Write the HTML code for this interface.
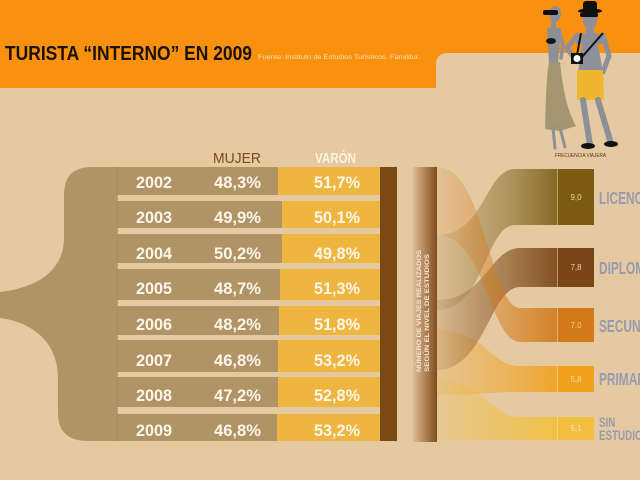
<!DOCTYPE html>
<html>
<head>
<meta charset="utf-8">
<style>
  html,body{margin:0;padding:0;background:#e5c9a1;}
  svg{display:block;}
  text{font-family:"Liberation Sans", sans-serif;}
</style>
</head>
<body>
<svg width="640" height="480" viewBox="0 0 640 480" xmlns="http://www.w3.org/2000/svg">
  <defs>
    <linearGradient id="gL" gradientUnits="userSpaceOnUse" x1="437" y1="0" x2="557" y2="0">
      <stop offset="0" stop-color="#8a7030" stop-opacity="0.12"/>
      <stop offset="0.55" stop-color="#8a7030" stop-opacity="0.55"/>
      <stop offset="1" stop-color="#7b5e1a" stop-opacity="0.9"/>
    </linearGradient>
    <linearGradient id="gD" gradientUnits="userSpaceOnUse" x1="437" y1="0" x2="557" y2="0">
      <stop offset="0" stop-color="#7a4516" stop-opacity="0.12"/>
      <stop offset="0.55" stop-color="#7a4516" stop-opacity="0.55"/>
      <stop offset="1" stop-color="#7a4516" stop-opacity="0.9"/>
    </linearGradient>
    <linearGradient id="gS" gradientUnits="userSpaceOnUse" x1="437" y1="0" x2="557" y2="0">
      <stop offset="0" stop-color="#d27a1a" stop-opacity="0.1"/>
      <stop offset="0.55" stop-color="#d27a1a" stop-opacity="0.5"/>
      <stop offset="1" stop-color="#d27a1a" stop-opacity="0.9"/>
    </linearGradient>
    <linearGradient id="gP" gradientUnits="userSpaceOnUse" x1="437" y1="0" x2="557" y2="0">
      <stop offset="0" stop-color="#f0a11e" stop-opacity="0.12"/>
      <stop offset="0.55" stop-color="#f0a11e" stop-opacity="0.5"/>
      <stop offset="1" stop-color="#f0a11e" stop-opacity="0.9"/>
    </linearGradient>
    <linearGradient id="gSE" gradientUnits="userSpaceOnUse" x1="437" y1="0" x2="557" y2="0">
      <stop offset="0" stop-color="#f2c03e" stop-opacity="0.15"/>
      <stop offset="0.55" stop-color="#f2c03e" stop-opacity="0.55"/>
      <stop offset="1" stop-color="#f2c03e" stop-opacity="0.9"/>
    </linearGradient>
    <linearGradient id="gBar" gradientUnits="userSpaceOnUse" x1="413" y1="0" x2="437" y2="0">
      <stop offset="0" stop-color="#dcbc96"/>
      <stop offset="0.35" stop-color="#c09468"/>
      <stop offset="1" stop-color="#7f4e1e"/>
    </linearGradient>
  </defs>

  <!-- background -->
  <rect x="0" y="0" width="640" height="480" fill="#e5c9a1"/>

  <!-- orange header -->
  <path d="M0 0 H640 V53 H448 Q436 53 436 65 V88 H0 Z" fill="#f9910f"/>

  <text x="5" y="60" font-size="20" font-weight="bold" fill="#1a1208" textLength="247" lengthAdjust="spacingAndGlyphs">TURISTA “INTERNO” EN 2009</text>
  <text x="258" y="59" font-size="6.5" fill="#fbe2b8" textLength="162" lengthAdjust="spacingAndGlyphs">Fuente: Instituto de Estudios Turísticos. Familitur.</text>

  <!-- figures -->
  <g>
    <!-- woman -->
    <ellipse cx="555" cy="14" rx="6" ry="8" fill="#8d9098"/>
    <rect x="543" y="10" width="15" height="5" rx="2" fill="#111"/>
    <rect x="551" y="20" width="5" height="9" fill="#8d9098"/>
    <path d="M547 28 L561 28 L558 63 L549 63 Z" fill="#8d9098"/>
    <ellipse cx="551" cy="41" rx="5" ry="3" fill="#151515"/>
    <path d="M559 30 L563 45 L561 58" stroke="#8d9098" stroke-width="3.5" fill="none" stroke-linecap="round"/>
    <path d="M549 62 L560 62 C563 90 567 110 576 126 L560 131 L545 129 C546 100 546 80 549 62 Z" fill="#a39670"/>
    <path d="M553 128 L555 148 M560 128 L565 147" stroke="#8d9098" stroke-width="3" fill="none" stroke-linecap="round"/>
    <!-- man -->
    <path d="M584 33 L596 33 L603 72 L578 72 Z" fill="#8d9098"/>
    <path d="M576 34 L604 34 L604 44 L576 44 Z" fill="#8d9098"/>
    <ellipse cx="590" cy="20" rx="7" ry="9" fill="#8d9098"/>
    <rect x="586" y="26" width="8" height="8" fill="#8d9098"/>
    <rect x="583" y="1" width="14" height="10" rx="3" fill="#111"/>
    <ellipse cx="590" cy="11" rx="12" ry="2.5" fill="#111"/>
    <rect x="580" y="13" width="18" height="4" rx="1.5" fill="#111"/>
    <path d="M577 35 L567 48 L574 58" stroke="#8d9098" stroke-width="5" fill="none" stroke-linecap="round" stroke-linejoin="round"/>
    <path d="M603 35 L609 56 L603 72" stroke="#8d9098" stroke-width="5" fill="none" stroke-linecap="round" stroke-linejoin="round"/>
    <path d="M581 33 L577 55 M603 33 L582 57" stroke="#111" stroke-width="2" fill="none"/>
    <rect x="571" y="53" width="12" height="11" fill="#111"/>
    <circle cx="577" cy="58.5" r="3.5" fill="#fff"/>
    <path d="M577 70 L603 70 L604 100 L577 100 Z" fill="#f0b630"/>
    <path d="M583 100 L590 145 M598 100 L610 140" stroke="#8d9098" stroke-width="6" fill="none" stroke-linecap="round"/>
    <ellipse cx="588" cy="146" rx="7" ry="3" fill="#111"/>
    <ellipse cx="611" cy="144" rx="7" ry="3" fill="#111"/>
    <text x="555" y="157" font-size="5.5" fill="#5a3214" textLength="51" lengthAdjust="spacingAndGlyphs">FRECUENCIA VIAJERA</text>
  </g>

  <!-- column headers -->
  <text x="213" y="163" font-size="15" fill="#7a4a1c" textLength="48" lengthAdjust="spacingAndGlyphs">MUJER</text>
  <text x="315" y="163" font-size="15" font-weight="bold" fill="#fdf3e0" textLength="41" lengthAdjust="spacingAndGlyphs">VARÓN</text>

  <!-- brace shape -->
  <path d="M120 167 L92 167 Q64 167 64 195 L64 238 C64 272 35 288 0 292 L0 318 C32 322 58 342 58 378 L58 413 Q58 441 88 441 L120 441 Z" fill="#b09466"/>
  <rect x="117" y="167" width="263" height="274" fill="#b09466"/>

  <!-- varón parts -->
  <rect x="278" y="167" width="102" height="31" fill="#efb63f"/>
  <rect x="282" y="198" width="98" height="34" fill="#efb63f"/>
  <rect x="282" y="232" width="98" height="34" fill="#efb63f"/>
  <rect x="280" y="266" width="100" height="37" fill="#efb63f"/>
  <rect x="279" y="303" width="101" height="35" fill="#efb63f"/>
  <rect x="278" y="338" width="102" height="37" fill="#efb63f"/>
  <rect x="278" y="375" width="102" height="35" fill="#efb63f"/>
  <rect x="277" y="410" width="103" height="31" fill="#efb63f"/>

  <!-- gaps -->
  <g fill="#e4c9a2">
    <rect x="117" y="195" width="263" height="6"/>
    <rect x="117" y="228" width="263" height="6"/>
    <rect x="117" y="263" width="263" height="6"/>
    <rect x="117" y="300" width="263" height="6"/>
    <rect x="117" y="335" width="263" height="5"/>
    <rect x="117" y="372" width="263" height="5"/>
    <rect x="117" y="407" width="263" height="7"/>
  </g>
  <rect x="117" y="167" width="1" height="274" fill="#a3875a" opacity="0.6"/>

  <!-- row texts -->
  <g font-size="17" font-weight="bold" fill="#fdf6ea">
    <text x="136" y="188" textLength="36" lengthAdjust="spacingAndGlyphs">2002</text>
    <text x="214" y="188" textLength="47" lengthAdjust="spacingAndGlyphs">48,3%</text>
    <text x="314" y="188" textLength="46" lengthAdjust="spacingAndGlyphs">51,7%</text>

    <text x="136" y="223" textLength="36" lengthAdjust="spacingAndGlyphs">2003</text>
    <text x="214" y="223" textLength="47" lengthAdjust="spacingAndGlyphs">49,9%</text>
    <text x="314" y="223" textLength="46" lengthAdjust="spacingAndGlyphs">50,1%</text>

    <text x="136" y="259" textLength="36" lengthAdjust="spacingAndGlyphs">2004</text>
    <text x="214" y="259" textLength="47" lengthAdjust="spacingAndGlyphs">50,2%</text>
    <text x="314" y="259" textLength="46" lengthAdjust="spacingAndGlyphs">49,8%</text>

    <text x="136" y="294" textLength="36" lengthAdjust="spacingAndGlyphs">2005</text>
    <text x="214" y="294" textLength="47" lengthAdjust="spacingAndGlyphs">48,7%</text>
    <text x="314" y="294" textLength="46" lengthAdjust="spacingAndGlyphs">51,3%</text>

    <text x="136" y="330" textLength="36" lengthAdjust="spacingAndGlyphs">2006</text>
    <text x="214" y="330" textLength="47" lengthAdjust="spacingAndGlyphs">48,2%</text>
    <text x="314" y="330" textLength="46" lengthAdjust="spacingAndGlyphs">51,8%</text>

    <text x="136" y="366" textLength="36" lengthAdjust="spacingAndGlyphs">2007</text>
    <text x="214" y="366" textLength="47" lengthAdjust="spacingAndGlyphs">46,8%</text>
    <text x="314" y="366" textLength="46" lengthAdjust="spacingAndGlyphs">53,2%</text>

    <text x="136" y="401" textLength="36" lengthAdjust="spacingAndGlyphs">2008</text>
    <text x="214" y="401" textLength="47" lengthAdjust="spacingAndGlyphs">47,2%</text>
    <text x="314" y="401" textLength="46" lengthAdjust="spacingAndGlyphs">52,8%</text>

    <text x="136" y="436" textLength="36" lengthAdjust="spacingAndGlyphs">2009</text>
    <text x="214" y="436" textLength="47" lengthAdjust="spacingAndGlyphs">46,8%</text>
    <text x="314" y="436" textLength="46" lengthAdjust="spacingAndGlyphs">53,2%</text>
  </g>

  <!-- dark bar -->
  <rect x="380" y="167" width="17" height="274" fill="#7b4a14"/>

  <!-- gradient bar with vertical text -->
  <rect x="413" y="167" width="24" height="275" fill="url(#gBar)"/>
  <g font-size="6.8" font-weight="bold" fill="#f3e6d6">
    <text transform="translate(421,372) rotate(-90)" textLength="122" lengthAdjust="spacingAndGlyphs">NÚMERO DE VIAJES REALIZADOS</text>
    <text transform="translate(429,372) rotate(-90)" textLength="118" lengthAdjust="spacingAndGlyphs">SEGÚN EL NIVEL DE ESTUDIOS</text>
  </g>

  <!-- flows -->
  <path d="M437 380 C485 380 490 417 520 417 L557 417 L557 440 L520 440 C490 440 485 441 437 441 Z" fill="url(#gSE)"/>
  <path d="M437 330 C485 330 490 366 520 366 L557 366 L557 392 L520 392 C490 392 485 395 437 395 Z" fill="url(#gP)"/>
  <path d="M437 300 C485 300 490 248 520 248 L557 248 L557 287 L520 287 C490 287 485 370 437 370 Z" fill="url(#gD)"/>
  <path d="M437 235 C485 235 485 169 515 169 L557 169 L557 225 L515 225 C485 225 485 310 437 310 Z" fill="url(#gL)"/>
  <path d="M437 167 C485 167 490 308 520 308 L557 308 L557 342 L520 342 C490 342 485 235 437 235 Z" fill="url(#gS)"/>

  <!-- boxes -->
  <rect x="557" y="169" width="37" height="56" fill="#7b5a12"/>
  <rect x="557" y="248" width="37" height="39" fill="#7a4516"/>
  <rect x="557" y="308" width="37" height="34" fill="#d27a1a"/>
  <rect x="557" y="366" width="37" height="26" fill="#f0a11e"/>
  <rect x="557" y="417" width="37" height="23" fill="#f2c03e"/>
  <g fill="#f5e2b8" opacity="0.55">
    <rect x="557" y="169" width="1" height="56"/>
    <rect x="557" y="248" width="1" height="39"/>
    <rect x="557" y="308" width="1" height="34"/>
    <rect x="557" y="366" width="1" height="26"/>
    <rect x="557" y="417" width="1" height="23"/>
  </g>
  <g font-size="8" text-anchor="middle">
    <text x="576" y="200" fill="#ead9a8">9,0</text>
    <text x="576" y="270" fill="#ead0b0">7,8</text>
    <text x="576" y="328" fill="#f4c890">7,0</text>
    <text x="576" y="382" fill="#f8d8a0">5,8</text>
    <text x="576" y="431" fill="#f8e4a8">5,1</text>
  </g>

  <!-- labels -->
  <g font-weight="bold" fill="#989bb0">
    <text transform="translate(599,204) scale(0.66,1)" font-size="18">LICENCIADOS</text>
    <text transform="translate(599,274) scale(0.66,1)" font-size="18">DIPLOMADOS</text>
    <text transform="translate(599,332) scale(0.66,1)" font-size="18">SECUNDARIOS</text>
    <text transform="translate(599,385) scale(0.66,1)" font-size="18">PRIMARIOS</text>
    <text transform="translate(599,427) scale(0.7,1)" font-size="14">SIN</text>
    <text transform="translate(599,440) scale(0.7,1)" font-size="14">ESTUDIOS</text>
  </g>
</svg>
</body>
</html>
